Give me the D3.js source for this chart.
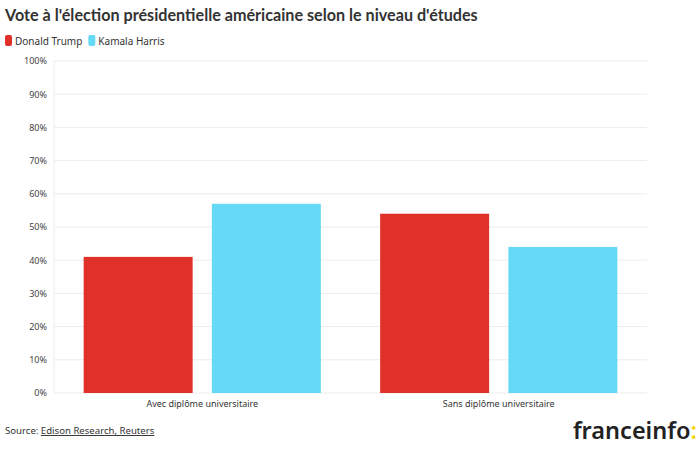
<!DOCTYPE html>
<html>
<head>
<meta charset="utf-8">
<script src="https://cdn.jsdelivr.net/npm/d3@7"></script>
<style>
  body { margin: 0; background: #fff; }
  svg { font-family: "Noto Sans", Lato, sans-serif; }
</style>
</head>
<body>
<div id="chart-area"></div>
<script>
var groups = ["Avec diplôme universitaire", "Sans diplôme universitaire"];
var series = ["Donald Trump", "Kamala Harris"];
var trump = [41, 54];
var harris = [57, 44];
var yTicks = [0, 10, 20, 30, 40, 50, 60, 70, 80, 90, 100];

var margin = { left: 54, right: 53, top: 61, bottom: 57 },
    width = 700 - margin.left - margin.right,
    height = 450 - margin.top - margin.bottom;

var svg = d3.select("#chart-area").append("svg")
    .attr("width", 700)
    .attr("height", 450);

var color = d3.scaleOrdinal().domain(series).range(["#df3029", "#66d9f6"]);

// title, sized to the width of the original
var title = svg.append("text")
    .attr("x", 5)
    .attr("y", 21)
    .attr("font-size", 16)
    .attr("font-family", "Lato, sans-serif")
    .attr("font-weight", "bold")
    .attr("fill", "#333")
    .text("Vote à l'élection présidentielle américaine selon le niveau d'études");
var tw = title.node().getComputedTextLength();
title.attr("font-size", 16 * 473 / tw);

// legend
var legend = svg.append("g").attr("transform", "translate(5,35)");
var lx = 0;
series.forEach(function(s, i) {
    var row = legend.append("g").attr("transform", "translate(" + lx + ",0)");
    row.append("rect")
        .attr("width", 7)
        .attr("height", 11)
        .attr("rx", 2)
        .attr("fill", color(s));
    var t = row.append("text")
        .attr("x", 10)
        .attr("y", 9.5)
        .attr("font-size", 10)
        .attr("fill", "#333")
        .text(s);
    lx += 10 + t.node().getComputedTextLength() + 6;
});

var g = svg.append("g")
    .attr("transform", "translate(" + margin.left + "," + margin.top + ")");

var x0 = d3.scaleBand().domain(groups).range([0, width])
    .paddingInner(0.2).paddingOuter(0.1);
var x1 = d3.scaleBand().domain(series).range([0, x0.bandwidth()])
    .paddingInner(0.15);
var y = d3.scaleLinear().domain([0, 100]).range([height, 0]);

// gridlines
g.selectAll(".grid")
    .data(yTicks)
    .enter().append("line")
    .attr("class", "grid")
    .attr("x1", 0)
    .attr("x2", width)
    .attr("y1", function(d) { return y(d); })
    .attr("y2", function(d) { return y(d); })
    .attr("stroke", "#ececec")
    .attr("stroke-width", 1);

g.append("line")
    .attr("x1", 0).attr("x2", 0)
    .attr("y1", 0).attr("y2", height)
    .attr("stroke", "#ececec");

// y axis
var yAxis = g.append("g")
    .call(d3.axisLeft(y).tickValues(yTicks).tickSize(0).tickPadding(7)
        .tickFormat(function(d) { return d + "%"; }));
yAxis.select(".domain").remove();
yAxis.selectAll("text")
    .attr("font-size", 9)
    .attr("font-family", "\"Noto Sans\", Lato, sans-serif")
    .attr("fill", "#444");

// bars
var data = groups.map(function(grp, i) {
    return { group: grp, values: [
        { key: series[0], value: trump[i] },
        { key: series[1], value: harris[i] }
    ] };
});

var grp = g.selectAll(".group")
    .data(data)
    .enter().append("g")
    .attr("class", "group")
    .attr("transform", function(d) { return "translate(" + x0(d.group) + ",0)"; });

grp.selectAll("rect")
    .data(function(d) { return d.values; })
    .enter().append("rect")
    .attr("x", function(d) { return x1(d.key); })
    .attr("y", function(d) { return y(d.value); })
    .attr("width", x1.bandwidth())
    .attr("height", function(d) { return height - y(d.value); })
    .attr("fill", function(d) { return color(d.key); });

// x axis
var xAxis = g.append("g")
    .attr("transform", "translate(0," + height + ")")
    .call(d3.axisBottom(x0).tickSize(0).tickPadding(8));
xAxis.select(".domain").remove();
xAxis.selectAll("text")
    .attr("font-size", 9)
    .attr("font-family", "\"Noto Sans\", Lato, sans-serif")
    .attr("fill", "#333");

// source
var src = svg.append("text")
    .attr("x", 5)
    .attr("y", 434)
    .attr("font-size", 9.6)
    .attr("fill", "#333");
src.append("tspan").text("Source: ");
src.append("tspan").attr("text-decoration", "underline").text("Edison Research, Reuters");

// logo
var logo = svg.append("text")
    .attr("x", 697)
    .attr("y", 439)
    .attr("text-anchor", "end")
    .attr("font-size", 23.5)
    .attr("font-weight", "600")
    .attr("fill", "#222");
logo.append("tspan").text("franceinfo");
logo.append("tspan").attr("fill", "#f5d800").text(":");
</script>
</body>
</html>
